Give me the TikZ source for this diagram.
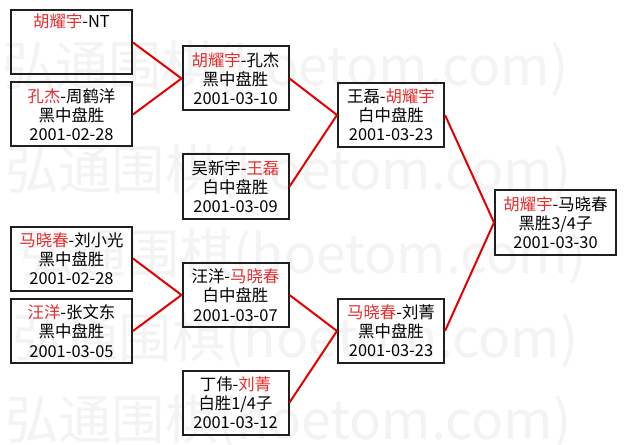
\documentclass[tikz,border=0pt]{standalone}
\usepackage{fontspec}
\setmainfont{Noto Sans CJK SC}
\definecolor{wred}{RGB}{228,45,45}
\definecolor{lred}{RGB}{228,0,0}
\definecolor{wmark}{RGB}{243,243,243}
\begin{document}
\begin{tikzpicture}[x=0.75pt,y=-0.75pt,
  game/.style={draw=black!88, line width=1.5pt, minimum width=#1, minimum height=48pt,
    inner sep=0pt, align=center, font=\fontsize{12.3}{14.4}\selectfont},
  game/.default=90.75pt,
  link/.style={draw=lred, line width=1.5pt},
  wm/.style={text=wmark, font=\fontsize{40}{40}\selectfont\addfontfeatures{Weight=Light}, anchor=west, inner sep=0pt}]
\fill[white] (0,0) rectangle (627,445);
\useasboundingbox (0,0) rectangle (627,445);
% watermark
\node[wm] (w1) at (2,68) {弘通围棋(hoetom.com)};
\node[wm] (w2) at (5,172) {弘通围棋(hoetom.com)};
\node[wm] (w3) at (20,256) {弘通围棋(hoetom.com)};
\node[wm] (w4) at (12,340) {弘通围棋(hoetom.com)};
\node[wm] (w5) at (5,422) {弘通围棋(hoetom.com)};
% first round
\node[game] (b1) at (71.5,42.5) {\textcolor{wred}{胡耀宇}-NT\\\strut\\\strut};
\node[game] (b2) at (71.5,114.5) {\textcolor{wred}{孔杰}-周鹤洋\\黑中盘胜\\2001-02-28};
\node[game] (b5) at (71.5,258.5) {\textcolor{wred}{马晓春}-刘小光\\黑中盘胜\\2001-02-28};
\node[game] (b6) at (71.5,331) {\textcolor{wred}{汪洋}-张文东\\黑中盘胜\\2001-03-05};
% second round
\node[game=79.5pt] (b3) at (235.5,78.5) {\textcolor{wred}{胡耀宇}-孔杰\\黑中盘胜\\2001-03-10};
\node[game=79.5pt] (b4) at (235.5,186.5) {吴新宇-\textcolor{wred}{王磊}\\白中盘胜\\2001-03-09};
\node[game=79.5pt] (b7) at (235.5,295) {汪洋-\textcolor{wred}{马晓春}\\白中盘胜\\2001-03-07};
\node[game=79.5pt] (b8) at (235.5,402.5) {丁伟-\textcolor{wred}{刘菁}\\白胜1/4子\\2001-03-12};
% semi-final
\node[game=79.5pt] (b9) at (391,115) {王磊-\textcolor{wred}{胡耀宇}\\白中盘胜\\2001-03-23};
\node[game=79.5pt] (b10) at (391,331) {\textcolor{wred}{马晓春}-刘菁\\黑中盘胜\\2001-03-23};
% final
\node[game] (b11) at (555.5,222.5) {\textcolor{wred}{胡耀宇}-马晓春\\黑胜3/4子\\2001-03-30};
% connectors
\draw[link] (b1.east) -- (b3.west);
\draw[link] (b2.east) -- (b3.west);
\draw[link] (b5.east) -- (b7.west);
\draw[link] (b6.east) -- (b7.west);
\draw[link] (b3.east) -- (b9.west);
\draw[link] (b4.east) -- (b9.west);
\draw[link] (b7.east) -- (b10.west);
\draw[link] (b8.east) -- (b10.west);
\draw[link] (b9.east) -- (b11.west);
\draw[link] (b10.east) -- (b11.west);
\end{tikzpicture}
\end{document}
